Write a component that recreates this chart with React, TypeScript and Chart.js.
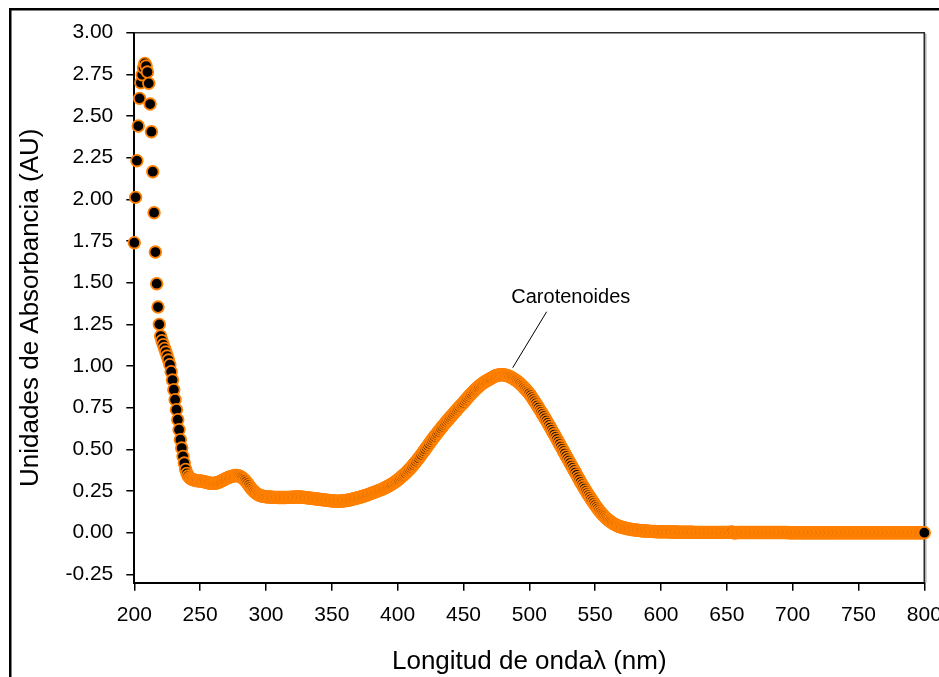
import { useEffect, useRef } from "react";
import { Chart, registerables } from "chart.js";

Chart.register(...registerables);

// ---- Data (absorbance, one value per nm) ----
const START_NM = 200;
const ABS_200_249 = [
  1.740, 2.012, 2.232, 2.440, 2.606, 2.700, 2.748, 2.790, 2.816, 2.800,
  2.764, 2.696, 2.572, 2.406, 2.166, 1.920, 1.684, 1.494, 1.354, 1.250,
  1.180, 1.152, 1.128, 1.106, 1.084, 1.060, 1.036, 1.008, 0.966, 0.916,
  0.858, 0.798, 0.738, 0.678, 0.618, 0.558, 0.508, 0.458, 0.418, 0.380,
  0.356, 0.340, 0.330, 0.324, 0.320, 0.317, 0.315, 0.313, 0.312, 0.311,
];
const ABS_250_299 = [
  0.310, 0.309, 0.308, 0.306, 0.304, 0.302, 0.300, 0.298, 0.297, 0.296,
  0.296, 0.297, 0.298, 0.300, 0.303, 0.306, 0.310, 0.314, 0.318, 0.322,
  0.326, 0.330, 0.333, 0.336, 0.338, 0.340, 0.342, 0.343, 0.343, 0.342,
  0.339, 0.335, 0.330, 0.323, 0.315, 0.306, 0.296, 0.285, 0.274, 0.264,
  0.255, 0.247, 0.240, 0.234, 0.229, 0.225, 0.222, 0.220, 0.218, 0.217,
];
const ABS_300_349 = [
  0.216, 0.215, 0.214, 0.214, 0.213, 0.213, 0.212, 0.212, 0.212, 0.211,
  0.211, 0.211, 0.211, 0.211, 0.211, 0.211, 0.212, 0.212, 0.212, 0.213,
  0.213, 0.213, 0.214, 0.214, 0.214, 0.214, 0.214, 0.213, 0.213, 0.212,
  0.211, 0.210, 0.209, 0.208, 0.207, 0.206, 0.205, 0.204, 0.203, 0.202,
  0.201, 0.200, 0.199, 0.198, 0.197, 0.196, 0.195, 0.194, 0.193, 0.192,
];
const ABS_350_399 = [
  0.191, 0.190, 0.190, 0.189, 0.189, 0.189, 0.189, 0.190, 0.190, 0.191,
  0.192, 0.193, 0.195, 0.196, 0.198, 0.200, 0.202, 0.204, 0.206, 0.208,
  0.210, 0.212, 0.214, 0.217, 0.219, 0.222, 0.224, 0.227, 0.230, 0.233,
  0.236, 0.239, 0.242, 0.245, 0.248, 0.251, 0.254, 0.257, 0.260, 0.264,
  0.268, 0.272, 0.276, 0.280, 0.284, 0.289, 0.294, 0.299, 0.304, 0.310,
];
const ABS_400_449 = [
  0.316, 0.322, 0.329, 0.336, 0.343, 0.350, 0.357, 0.365, 0.373, 0.381,
  0.390, 0.399, 0.408, 0.418, 0.427, 0.437, 0.447, 0.458, 0.468, 0.479,
  0.490, 0.501, 0.512, 0.523, 0.534, 0.545, 0.556, 0.567, 0.577, 0.587,
  0.597, 0.607, 0.617, 0.627, 0.637, 0.647, 0.656, 0.666, 0.675, 0.684,
  0.693, 0.702, 0.711, 0.720, 0.729, 0.738, 0.747, 0.756, 0.764, 0.772,
];
const ABS_450_499 = [
  0.780, 0.790, 0.799, 0.808, 0.817, 0.826, 0.834, 0.843, 0.851, 0.859,
  0.866, 0.873, 0.880, 0.887, 0.893, 0.899, 0.904, 0.909, 0.914, 0.918,
  0.922, 0.927, 0.932, 0.936, 0.940, 0.943, 0.945, 0.947, 0.948, 0.948,
  0.948, 0.947, 0.945, 0.943, 0.940, 0.937, 0.933, 0.929, 0.924, 0.918,
  0.914, 0.908, 0.901, 0.894, 0.887, 0.879, 0.871, 0.862, 0.853, 0.844,
];
const ABS_500_549 = [
  0.835, 0.824, 0.812, 0.800, 0.788, 0.776, 0.763, 0.750, 0.737, 0.725,
  0.712, 0.699, 0.686, 0.672, 0.659, 0.645, 0.631, 0.617, 0.603, 0.589,
  0.575, 0.561, 0.546, 0.532, 0.517, 0.503, 0.489, 0.475, 0.460, 0.446,
  0.432, 0.418, 0.403, 0.389, 0.375, 0.361, 0.347, 0.332, 0.318, 0.304,
  0.290, 0.277, 0.264, 0.251, 0.238, 0.226, 0.214, 0.202, 0.190, 0.178,
];
const ABS_550_599 = [
  0.166, 0.155, 0.144, 0.134, 0.124, 0.115, 0.106, 0.098, 0.090, 0.083,
  0.076, 0.070, 0.064, 0.059, 0.054, 0.050, 0.046, 0.042, 0.039, 0.036,
  0.033, 0.031, 0.029, 0.027, 0.025, 0.023, 0.022, 0.020, 0.019, 0.018,
  0.017, 0.016, 0.015, 0.014, 0.013, 0.012, 0.012, 0.011, 0.010, 0.010,
  0.009, 0.009, 0.008, 0.008, 0.007, 0.007, 0.007, 0.006, 0.006, 0.006,
];
const ABS_600_649 = [
  0.006, 0.005, 0.005, 0.005, 0.005, 0.005, 0.004, 0.004, 0.004, 0.004,
  0.004, 0.004, 0.004, 0.003, 0.003, 0.003, 0.003, 0.003, 0.003, 0.003,
  0.003, 0.003, 0.003, 0.003, 0.003, 0.002, 0.002, 0.002, 0.002, 0.002,
  0.002, 0.002, 0.002, 0.002, 0.002, 0.002, 0.002, 0.002, 0.002, 0.002,
  0.002, 0.002, 0.002, 0.002, 0.002, 0.002, 0.002, 0.002, 0.002, 0.002,
];
const ABS_650_699 = [
  0.002, 0.002, 0.002, 0.003, 0.004, -0.001, 0.000, 0.000, 0.001, 0.001,
  0.001, 0.001, 0.001, 0.001, 0.001, 0.001, 0.001, 0.001, 0.001, 0.001,
  0.001, 0.001, 0.001, 0.001, 0.001, 0.001, 0.001, 0.001, 0.001, 0.001,
  0.001, 0.001, 0.001, 0.001, 0.001, 0.001, 0.001, 0.001, 0.001, 0.001,
  0.001, 0.001, 0.001, 0.001, 0.001, 0.001, 0.001, 0.000, 0.000, 0.000,
];
const ABS_700_749 = [
  0.000, 0.000, 0.000, 0.000, 0.000, 0.000, 0.000, 0.000, 0.000, 0.000,
  0.000, 0.000, 0.000, 0.000, 0.000, 0.000, 0.000, 0.000, 0.000, 0.000,
  0.000, 0.000, 0.000, 0.000, 0.000, 0.000, 0.000, 0.000, 0.000, 0.000,
  0.000, 0.000, 0.000, 0.000, 0.000, 0.000, 0.000, 0.000, 0.000, 0.000,
  0.000, 0.000, 0.000, 0.000, 0.000, 0.000, 0.000, 0.000, 0.000, 0.000,
];
const ABS_750_800 = [
  0.000, 0.000, 0.000, 0.000, 0.000, 0.000, 0.000, 0.000, 0.000, 0.000,
  0.000, 0.000, 0.000, 0.000, 0.000, 0.000, 0.000, 0.000, 0.000, 0.000,
  0.000, 0.000, 0.000, 0.000, 0.000, 0.000, 0.000, 0.000, 0.000, 0.000,
  0.000, 0.000, 0.000, 0.000, 0.000, 0.000, 0.000, 0.000, 0.000, 0.000,
  0.000, 0.000, 0.000, 0.000, 0.000, 0.000, 0.000, 0.000, 0.000, 0.000,
  0.000,
];

const ABSORBANCE = [
  ...ABS_200_249, ...ABS_250_299, ...ABS_300_349, ...ABS_350_399,
  ...ABS_400_449, ...ABS_450_499, ...ABS_500_549, ...ABS_550_599,
  ...ABS_600_649, ...ABS_650_699, ...ABS_700_749, ...ABS_750_800,
];

const X_TICKS = [200, 250, 300, 350, 400, 450, 500, 550, 600, 650, 700, 750, 800];
const Y_TICKS = [-0.25, 0, 0.25, 0.5, 0.75, 1.0, 1.25, 1.5, 1.75, 2.0, 2.25, 2.5, 2.75, 3.0];
const X_RANGE = [200, 800];
const Y_RANGE = [-0.3, 3.0];

const X_TITLE = "Longitud de ondaλ (nm)";
const Y_TITLE = "Unidades de Absorbancia (AU)";

// annotation (data coordinates)
const ANNOT_TEXT = "Carotenoides";
const ANNOT_TEXT_AT = [531.5, 1.376];
const ANNOT_LINE_FROM = [513.2, 1.326];
const ANNOT_LINE_TO = [487.4, 0.99];

const FONT = '"Liberation Sans", Arial, Helvetica, sans-serif';
const W = 939;
const H = 677;

export default function App() {
  const ref = useRef<HTMLCanvasElement | null>(null);

  useEffect(() => {
    const canvas = ref.current;
    if (!canvas) return;

    const points = ABSORBANCE.map((y, i) => ({ x: START_NM + i, y }));

    const decorPlugin = {
      id: "decor",
      beforeDraw(chart: any) {
        const ctx = chart.ctx;
        ctx.save();
        ctx.fillStyle = "#fff";
        ctx.fillRect(0, 0, W, H);
        // outer figure frame (top and left)
        ctx.fillStyle = "#000";
        ctx.fillRect(9, 8, W - 9, 2.5);
        ctx.fillRect(9, 8, 2.5, H - 8);
        ctx.restore();
      },
      beforeDatasetsDraw(chart: any) {
        const { ctx, chartArea } = chart;
        const { left, right, top, bottom } = chartArea;
        ctx.save();
        ctx.strokeStyle = "#a8a8a8";
        ctx.lineWidth = 1.2;
        ctx.beginPath();
        ctx.moveTo(right + 1.6, top + 1);
        ctx.lineTo(right + 1.6, bottom);
        ctx.stroke();
        ctx.strokeStyle = "#2a2a2a";
        ctx.lineWidth = 1.6;
        ctx.beginPath();
        ctx.moveTo(left, top);
        ctx.lineTo(right, top);
        ctx.lineTo(right, bottom);
        ctx.stroke();
        ctx.restore();
      },
      afterDatasetsDraw(chart: any) {
        const { ctx, scales } = chart;
        const xs = scales.x;
        const ys = scales.y;
        ctx.save();
        ctx.strokeStyle = "#000";
        ctx.lineWidth = 1;
        ctx.beginPath();
        ctx.moveTo(xs.getPixelForValue(ANNOT_LINE_FROM[0]), ys.getPixelForValue(ANNOT_LINE_FROM[1]));
        ctx.lineTo(xs.getPixelForValue(ANNOT_LINE_TO[0]), ys.getPixelForValue(ANNOT_LINE_TO[1]));
        ctx.stroke();
        ctx.fillStyle = "#000";
        ctx.font = `20px ${FONT}`;
        ctx.textAlign = "center";
        ctx.textBaseline = "alphabetic";
        ctx.fillText(ANNOT_TEXT, xs.getPixelForValue(ANNOT_TEXT_AT[0]), ys.getPixelForValue(ANNOT_TEXT_AT[1]));
        ctx.restore();
      },
    };

    const chart = new Chart(canvas, {
      type: "scatter",
      data: {
        datasets: [
          {
            data: points,
            showLine: false,
            pointRadius: 5.8,
            pointHoverRadius: 5.8,
            pointBorderWidth: 1.8,
            pointBackgroundColor: "#000000",
            pointBorderColor: "#FF8000",
            clip: false,
          } as any,
        ],
      },
      options: {
        animation: false,
        responsive: false,
        devicePixelRatio: 1,
        events: [],
        layout: { padding: { left: 0, top: 32.7, right: 14.7, bottom: 0 } },
        plugins: { legend: { display: false }, tooltip: { enabled: false } },
        scales: {
          x: {
            type: "linear",
            min: X_RANGE[0],
            max: X_RANGE[1],
            afterBuildTicks: (s: any) => {
              s.ticks = X_TICKS.map((v) => ({ value: v }));
            },
            afterFit: (s: any) => {
              s.height = 94.3;
              s.paddingLeft = 0;
              s.paddingRight = 0;
            },
            grid: {
              display: true,
              drawOnChartArea: false,
              drawTicks: true,
              tickLength: 8,
              color: "#000",
              lineWidth: 1.5,
            },
            border: { display: true, color: "#000", width: 2 },
            ticks: {
              color: "#000",
              padding: 12,
              maxRotation: 0,
              autoSkip: false,
              font: { family: FONT, size: 21 },
              callback: (v: any) => String(v),
            },
            title: {
              display: true,
              text: X_TITLE,
              color: "#000",
              font: { family: FONT, size: 26, lineHeight: 1 },
              padding: { top: 0, bottom: 2 },
            },
          },
          y: {
            type: "linear",
            min: Y_RANGE[0],
            max: Y_RANGE[1],
            afterBuildTicks: (s: any) => {
              s.ticks = Y_TICKS.map((v) => ({ value: v }));
            },
            afterFit: (s: any) => {
              s.width = 134.3;
              s.paddingTop = 0;
              s.paddingBottom = 0;
            },
            grid: {
              display: true,
              drawOnChartArea: false,
              drawTicks: true,
              tickLength: 8,
              color: "#000",
              lineWidth: 1.5,
            },
            border: { display: true, color: "#000", width: 2 },
            ticks: {
              color: "#000",
              padding: 13,
              autoSkip: false,
              font: { family: FONT, size: 21 },
              callback: (v: any) => Number(v).toFixed(2),
            },
            title: {
              display: true,
              text: Y_TITLE,
              color: "#000",
              font: { family: FONT, size: 26, lineHeight: 1 },
              padding: { top: 17.5, bottom: 0 },
            },
          },
        },
      },
      plugins: [decorPlugin],
    });

    return () => {
      chart.destroy();
    };
  }, []);

  return (
    <div style={{ position: "absolute", left: 0, top: 0, width: W, height: H, background: "#fff" }}>
      <canvas ref={ref} width={W} height={H} style={{ display: "block", width: W, height: H }} />
    </div>
  );
}
